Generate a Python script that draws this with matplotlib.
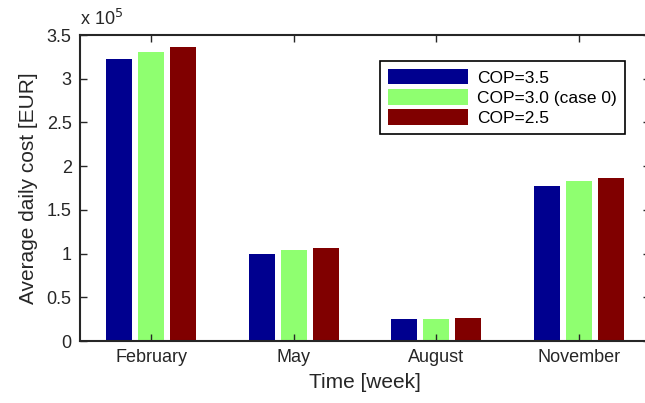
import matplotlib.pyplot as plt
import numpy as np

plt.rcParams['font.family'] = ['Liberation Sans', 'DejaVu Sans']

months = ['February', 'May', 'August', 'November']
labels = ['COP=3.5', 'COP=3.0 (case 0)', 'COP=2.5']
cop35 = [3.22, 0.99, 0.25, 1.77]
cop30 = [3.31, 1.04, 0.25, 1.83]
cop25 = [3.36, 1.06, 0.26, 1.86]
colors = ['#00008F', '#8FFF70', '#800000']

fig = plt.figure(figsize=(6.45, 4.03), dpi=100)
ax = fig.add_axes([80 / 645, 1 - 341 / 403, 570 / 645, 306 / 403])

x = np.arange(1, len(months) + 1)
w = 0.183
off = 0.226
for i, (vals, lab, c) in enumerate(zip([cop35, cop30, cop25], labels, colors)):
    ax.bar(x + (i - 1) * off, vals, w, color=c, label=lab)

ax.set_xlim(0.5, 4.5)
ax.set_ylim(0, 3.5)
ax.set_xticks(x)
ax.set_xticklabels(months)
ax.set_yticks(np.arange(0, 3.51, 0.5))
ax.set_yticklabels(['0', '0.5', '1', '1.5', '2', '2.5', '3', '3.5'])
ax.tick_params(direction='in', length=5, width=1, top=True, right=True,
               labelsize=13, colors='#262626', pad=6)
for s in ax.spines.values():
    s.set_linewidth(1.5)
    s.set_color('#262626')

ax.set_xlabel('Time [week]', fontsize=15, color='#262626', labelpad=5)
ax.set_ylabel('Average daily cost [EUR]', fontsize=15, color='#262626', labelpad=6)
ax.text(0, 1.02, r'x 10$^5$', transform=ax.transAxes, fontsize=13,
        color='#262626', ha='left', va='bottom')

leg = ax.legend(loc='upper left', bbox_to_anchor=(300 / 570, 1 - 26 / 306),
                borderaxespad=0, fontsize=12.5, handlelength=4.6,
                handleheight=1.0, handletextpad=0.55, labelspacing=0.2,
                borderpad=0.45, fancybox=False, framealpha=1,
                edgecolor='black')
leg.get_frame().set_linewidth(1.2)

fig.savefig('out.png', dpi=100)
